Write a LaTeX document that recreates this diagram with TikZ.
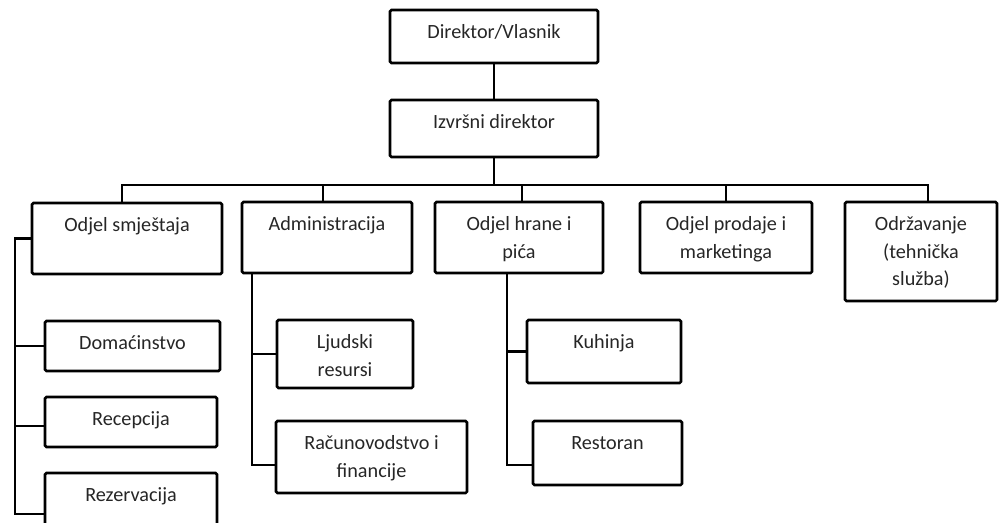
\documentclass[tikz,border=0pt]{standalone}
\usepackage{fontspec}
\setmainfont{Carlito}
\usetikzlibrary{calc,fit}
\newcommand\orgbox[6]{%
  \node[box, fit={(#2,#3) (#4,#5)}] (#1) {};
  \node[lbl] (#1-t) at ($(#1.north)+(0,30)$) {\begin{tabular}[t]{@{}c@{}}#6\end{tabular}};
}
\begin{document}
\begin{tikzpicture}[x=0.02cm,y=-0.02cm, line width=1.5pt,
  box/.style={draw, rounded corners=0.8pt, inner sep=0pt},
  lbl/.style={anchor=base, inner sep=0pt, font=\fontsize{11.5}{15.6}\selectfont, text=black!85}]
\useasboundingbox (0,0) rectangle (1000,522);
\clip (0,0) rectangle (1000,522);
\orgbox{dir}{390}{10}{598}{63}{Direktor/Vlasnik}
\orgbox{izv}{390}{100}{598}{157}{Izvršni direktor}
\orgbox{smj}{32}{203}{222}{274}{Odjel smještaja}
\orgbox{adm}{242}{202}{412}{273}{Administracija}
\orgbox{hra}{435}{202}{603}{273}{Odjel hrane i\\pića}
\orgbox{pro}{640}{202}{812}{273}{Odjel prodaje i\\marketinga}
\orgbox{odr}{845}{202}{997}{301}{Održavanje\\(tehnička\\služba)}
\orgbox{dom}{45}{321}{220}{371}{Domaćinstvo}
\orgbox{rec}{45}{397}{217}{447}{Recepcija}
\orgbox{rez}{45}{473}{217}{535}{Rezervacija}
\orgbox{ljr}{277}{320}{413}{388}{Ljudski\\resursi}
\orgbox{rac}{276}{421}{467}{493}{Računovodstvo i\\financije}
\orgbox{kuh}{527}{320}{681}{383}{Kuhinja}
\orgbox{res}{533}{421}{682}{485}{Restoran}
% top connectors
\coordinate (bar) at (0,185);
\draw (dir.south) -- (izv.north);
\draw (izv.south) -- (izv.south |- bar);
\draw ($(smj.north)+(-5,0)$) |- ($(odr.north |- bar)+(7,0)$) -- ($(odr.north)+(7,0)$);
\draw ($(adm.north)+(-4,0)$) -- ($(adm.north |- bar)+(-4,0)$);
\draw ($(hra.north)+(3,0)$) -- ($(hra.north |- bar)+(3,0)$);
\draw (pro.north) -- (pro.north |- bar);
% Odjel smjestaja
\coordinate (sx) at (15,0);
\coordinate (rezb) at ($(rez.west)+(0,10)$);
\draw (smj.west) -- (smj.west -| sx) |- (rezb);
\draw (sx |- dom.west) -- (dom.west);
\draw ($(sx |- rec.west)+(0,4)$) -- ($(rec.west)+(0,4)$);
% Administracija
\coordinate (ax) at (252,0);
\draw (ax |- adm.south) |- ($(rac.west)+(0,8)$);
\draw (ax |- ljr.west) -- (ljr.west);
% Odjel hrane
\coordinate (hx) at (507,0);
\draw (hx |- hra.south) |- ($(res.west)+(0,12)$);
\draw (hx |- kuh.west) -- (kuh.west);
\end{tikzpicture}
\end{document}
